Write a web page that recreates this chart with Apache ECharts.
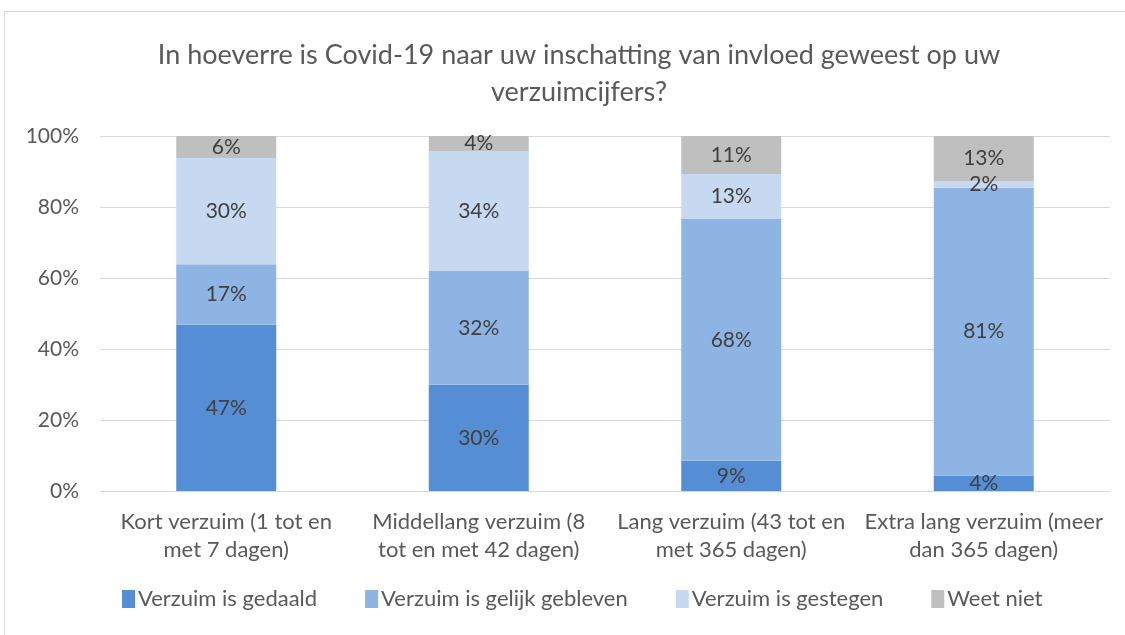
<!DOCTYPE html>
<html>
<head>
<meta charset="utf-8">
<script src="https://cdn.jsdelivr.net/npm/echarts@6/dist/echarts.min.js"></script>
<style>
  html, body { margin: 0; padding: 0; background: #fff; }
  #chart { width: 1125px; height: 635px; }
</style>
</head>
<body>
<div id="chart"></div>
<script>
const categories = [
  "Kort verzuim (1 tot en\nmet 7 dagen)",
  "Middellang verzuim (8\ntot en met 42 dagen)",
  "Lang verzuim (43 tot en\nmet 365 dagen)",
  "Extra lang verzuim (meer\ndan 365 dagen)"
];
const seriesNames = ["Verzuim is gedaald", "Verzuim is gelijk gebleven", "Verzuim is gestegen", "Weet niet"];
const gedaald = [46.8, 29.9, 8.5, 4.4];
const gelijk = [17.1, 32.1, 68.1, 81.0];
const gestegen = [29.9, 33.8, 12.7, 1.9];
const weetNiet = [6.2, 4.2, 10.7, 12.7];
const colors = ["#558ED5", "#8EB4E3", "#C6D9F1", "#BFBFBF"];

const chart = echarts.init(document.getElementById("chart"));
const font = "Lato, 'Open Sans', sans-serif";

const makeSeries = (name, data, color) => ({
  name,
  type: "bar",
  stack: "total",
  data,
  barWidth: 100,
  itemStyle: { color },
  label: {
    show: true,
    position: "inside",
    color: "#404040",
    fontSize: 21,
    fontFamily: font,
    formatter: (p) => Math.round(p.value) + "%"
  },
  emphasis: { disabled: true }
});

chart.setOption({
  backgroundColor: "#fff",
  animation: false,
  textStyle: { fontFamily: font },
  graphic: [{
    type: "rect",
    shape: { x: 4.5, y: 11.5, width: 1140, height: 640 },
    style: { fill: "none", stroke: "#d9d9d9", lineWidth: 1 },
    silent: true
  }],
  title: {
    text: "In hoeverre is Covid-19 naar uw inschatting van invloed geweest op uw\nverzuimcijfers?",
    left: 574,
    top: 32,
    textAlign: "center",
    textStyle: { color: "#595959", fontSize: 27, fontWeight: "normal", fontFamily: font, lineHeight: 37 }
  },
  legend: {
    data: seriesNames,
    bottom: 20,
    left: 117,
    icon: "rect",
    itemWidth: 13,
    itemHeight: 18,
    itemGap: 48,
    textStyle: { color: "#595959", fontSize: 22, fontFamily: font, padding: [0, 0, 0, -2] },
    selectedMode: false
  },
  grid: { left: 100, right: 15, top: 136, bottom: 144 },
  xAxis: {
    type: "category",
    data: categories,
    axisLine: { lineStyle: { color: "#d9d9d9" } },
    axisTick: { show: false },
    axisLabel: { color: "#595959", fontSize: 22, fontFamily: font, lineHeight: 28, margin: 17, interval: 0 }
  },
  yAxis: {
    type: "value",
    min: 0,
    max: 100,
    interval: 20,
    axisLine: { show: false },
    axisTick: { show: false },
    axisLabel: { color: "#595959", fontSize: 21, fontFamily: font, margin: 21, formatter: "{value}%" },
    splitLine: { lineStyle: { color: "#d9d9d9", width: 1 } }
  },
  series: [
    makeSeries(seriesNames[0], gedaald, colors[0]),
    makeSeries(seriesNames[1], gelijk, colors[1]),
    makeSeries(seriesNames[2], gestegen, colors[2]),
    makeSeries(seriesNames[3], weetNiet, colors[3])
  ]
});
</script>
</body>
</html>
